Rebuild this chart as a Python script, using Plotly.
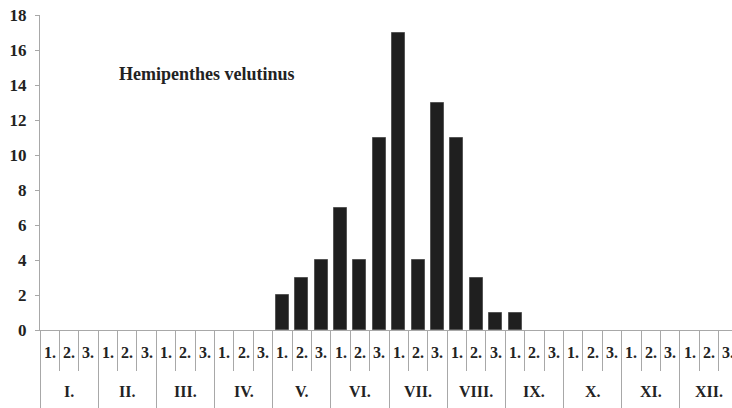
import plotly.graph_objects as go

months = ["I.", "II.", "III.", "IV.", "V.", "VI.", "VII.", "VIII.", "IX.", "X.", "XI.", "XII."]
decades = ["1.", "2.", "3."]
# counts per decade (36 decades), index 12 = V.1
counts = [0, 0, 0, 0, 0, 0, 0, 0, 0, 0, 0, 0,
          2, 3, 4, 7, 4, 11, 17, 4, 13, 11, 3, 1,
          1, 0, 0, 0, 0, 0, 0, 0, 0, 0, 0, 0]
title_text = "Hemipenthes velutinus"
y_ticks = [0, 2, 4, 6, 8, 10, 12, 14, 16, 18]

n = len(months) * len(decades)
xs = list(range(n))
nz_x = [i for i in xs if counts[i] > 0]
nz_y = [counts[i] for i in xs if counts[i] > 0]

FONT = "Liberation Serif, Times New Roman, DejaVu Serif, serif"
GRAY = "#a8a8a8"
W, H = 732, 408
ml, mr, mt, mb = 40, 0, 15, 78
pw, ph = W - ml - mr, H - mt - mb

fig = go.Figure()
fig.add_trace(go.Bar(x=nz_x, y=nz_y, width=0.67,
                     marker=dict(color="#1f1f1f", line=dict(color="#555555", width=1)),
                     xaxis="x", yaxis="y", showlegend=False, hoverinfo="skip"))
fig.add_trace(go.Scatter(x=[0], y=[0], xaxis="x2", yaxis="y", mode="markers",
                         marker=dict(opacity=0), showlegend=False, hoverinfo="skip"))

xr = [-0.5, 35.19]
annotations = []
for i in xs:
    annotations.append(dict(x=i, y=0, xref="x", yref="y", yshift=-22, text="<b>%s</b>" % decades[i % 3],
                            showarrow=False, font=dict(family=FONT, size=16, color="#222"),
                            yanchor="middle", xanchor="center"))
for m, name in enumerate(months):
    annotations.append(dict(x=m * 3 + 1, y=0, xref="x", yref="y", yshift=-61, text="<b>%s</b>" % name,
                            showarrow=False, font=dict(family=FONT, size=16, color="#222"),
                            yanchor="middle", xanchor="center"))
annotations.append(dict(x=(117 - ml) / pw, y=1 - (74 - mt) / ph, xref="paper", yref="paper",
                        text="<b>%s</b>" % title_text, xanchor="left", yanchor="middle",
                        showarrow=False, font=dict(family=FONT, size=18, color="#222")))

fig.update_layout(
    width=W, height=H,
    margin=dict(l=ml, r=mr, t=mt, b=mb, autoexpand=False),
    plot_bgcolor="white", paper_bgcolor="white",
    bargap=0,
    xaxis=dict(range=xr, showgrid=False, zeroline=False, showline=True, linecolor=GRAY, linewidth=1,
               tickmode="array", tickvals=[i - 0.5 for i in range(n + 1)], ticks="outside",
               ticklen=40, tickcolor=GRAY, tickwidth=1, showticklabels=False, automargin=False),
    xaxis2=dict(range=xr, overlaying="x", side="bottom", showgrid=False, zeroline=False, showline=False,
                tickmode="array", tickvals=[m * 3 - 0.5 for m in range(len(months) + 1)], ticks="outside",
                ticklen=78, tickcolor=GRAY, tickwidth=1, showticklabels=False, automargin=False),
    yaxis=dict(range=[0, 18], tickvals=y_ticks, ticktext=["<b>%d</b>" % v for v in y_ticks],
               showgrid=False, zeroline=False, showline=True, automargin=False,
               linecolor=GRAY, linewidth=1, ticks="outside", ticklen=4, tickcolor=GRAY,
               tickfont=dict(family=FONT, size=17, color="#222"), ticklabelstandoff=5),
    annotations=annotations,
)

fig.write_html("out.html", config={"displayModeBar": False},
               post_script="document.body.style.margin='0';document.body.style.overflow='hidden';")
